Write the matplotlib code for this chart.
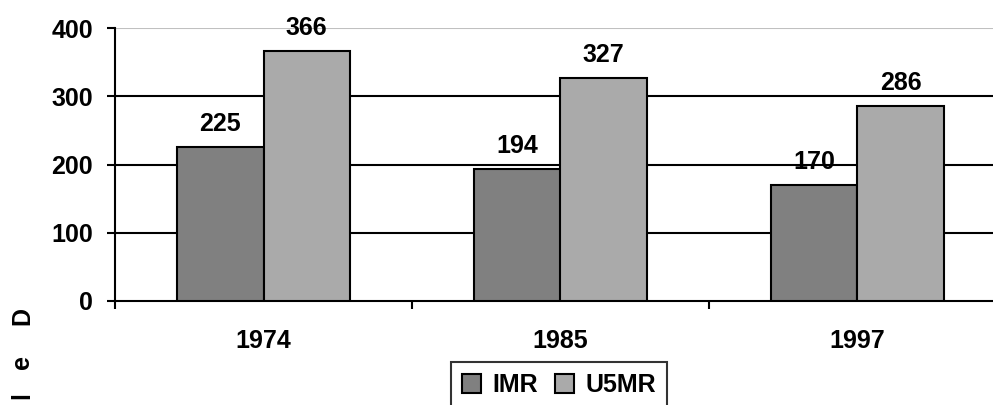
import matplotlib.pyplot as plt
import numpy as np

plt.rcParams['font.family'] = ['Liberation Sans', 'DejaVu Sans']
plt.rcParams['font.weight'] = 'bold'

years = ['1974', '1985', '1997']
imr = [225, 194, 170]
u5mr = [366, 327, 286]

fs = 18

fig = plt.figure(figsize=(9.93, 4.05), dpi=100)
ax = fig.add_axes([115 / 993, 104 / 405, 891 / 993, 273 / 405])

x = np.arange(len(years)) + 0.5
w = 0.29
b1 = ax.bar(x - w / 2, imr, w, color='#808080', edgecolor='black', linewidth=1.5, label='IMR', zorder=3)
b2 = ax.bar(x + w / 2, u5mr, w, color='#aaaaaa', edgecolor='black', linewidth=1.5, label='U5MR', zorder=3)

for bars, vals in ((b1, imr), (b2, u5mr)):
    for r, v in zip(bars, vals):
        ax.annotate(str(v), (r.get_x() + r.get_width() / 2, v), xytext=(0, 11.5),
                    textcoords='offset points', ha='center', va='baseline',
                    fontsize=fs, fontweight='bold')

ax.set_xlim(0, 3)
ax.set_ylim(0, 400)
ax.set_yticks([0, 100, 200, 300, 400])
for y in (100, 200, 300):
    ax.axhline(y, color='black', linewidth=1.5, zorder=1)
ax.axhline(400, color='#c0c0c0', linewidth=1.5, zorder=1)

ax.set_xticks([0, 1, 2, 3])
ax.set_xticklabels([])
ax.set_xticks(x, minor=True)
ax.set_xticklabels(years, minor=True)
ax.tick_params(axis='x', which='major', direction='out', length=6, width=1.5)
ax.tick_params(axis='x', which='minor', length=0, pad=20, labelsize=fs)
ax.tick_params(axis='y', direction='out', length=6, width=1.5, pad=10, labelsize=fs)

for s in ('top', 'right'):
    ax.spines[s].set_visible(False)
for s in ('left', 'bottom'):
    ax.spines[s].set_linewidth(1.5)

leg = fig.legend(handles=[b1, b2], loc='upper left', bbox_to_anchor=(451 / 993, 1 - 362 / 405),
                 ncol=2, frameon=True, fancybox=False, edgecolor='black', fontsize=fs,
                 handlelength=0.75, handleheight=0.75, handletextpad=0.45, columnspacing=0.7,
                 borderaxespad=0, borderpad=0.45)
leg.get_frame().set_linewidth(1.5)
for t in leg.get_texts():
    t.set_fontweight('bold')

# stray rotated letters at the left margin
for ch, yy in (('D', 316), ('e', 362), ('l', 396)):
    fig.text(22 / 993, 1 - yy / 405, ch, rotation=90, ha='center', va='center',
             fontsize=fs, fontweight='bold')

fig.savefig('out.png', dpi=100)
